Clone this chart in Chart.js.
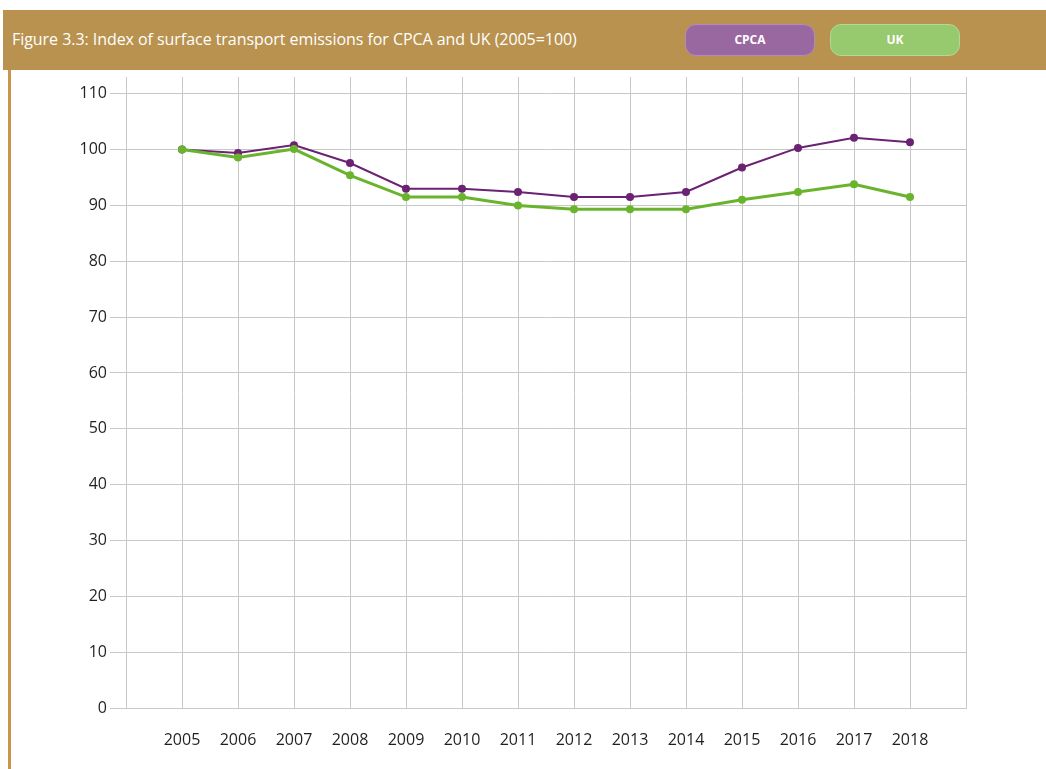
<!DOCTYPE html>
<html>
<head>
<meta charset="utf-8">
<script src="https://cdn.jsdelivr.net/npm/chart.js@4"></script>
<style>
  body { margin: 0; background: #fff; width: 1046px; height: 769px; overflow: hidden; position: relative; font-family: "Open Sans", sans-serif; }
  #header { position: absolute; left: 3px; top: 10px; width: 1043px; height: 60px; background: #b9924f; }
  #title { position: absolute; left: 9px; top: 18px; color: #fff; font-size: 16px; letter-spacing: -0.05px; }
  .btn { position: absolute; top: 14px; height: 30px; width: 128px; border-radius: 11px; color: #fff; font-weight: bold; font-size: 12px; text-align: center; line-height: 30px; }
  #leftBar { position: absolute; left: 8px; top: 70px; width: 3px; height: 699px; background: #c8974a; }
  #wrap { position: absolute; left: 12px; top: 70px; width: 1034px; height: 699px; }
</style>
</head>
<body>
<div id="header">
  <div id="title">Figure 3.3: Index of surface transport emissions for CPCA and UK (2005=100)</div>
  <div class="btn" id="btnCpca" style="left:682px; background:#9a68a0; border:1px solid #b38bb8;">CPCA</div>
  <div class="btn" id="btnUk" style="left:827px; background:#97c96e; border:1px solid #b3d996;">UK</div>
</div>
<div id="leftBar"></div>
<div id="wrap"><canvas id="emissionsChart"></canvas></div>
<script>
const years = [2005, 2006, 2007, 2008, 2009, 2010, 2011, 2012, 2013, 2014, 2015, 2016, 2017, 2018];
const cpcaValues = [100, 99.4, 100.8, 97.6, 93.0, 93.0, 92.4, 91.5, 91.5, 92.4, 96.8, 100.3, 102.1, 101.3];
const ukValues = [100, 98.6, 100.1, 95.4, 91.5, 91.5, 90.0, 89.3, 89.3, 89.3, 91.0, 92.4, 93.8, 91.5];
const seriesNames = ["CPCA", "UK"];

const gridColor = "#c8c8c8";
const textColor = "#231f20";

const canvas = document.getElementById("emissionsChart");
const ctx = canvas.getContext("2d");

new Chart(ctx, {
  type: "line",
  data: {
    datasets: [
      {
        label: seriesNames[1],
        data: years.map((y, i) => ({ x: y, y: ukValues[i] })),
        borderColor: "#6ab42d",
        backgroundColor: "#6ab42d",
        borderWidth: 3,
        pointRadius: 4,
        pointBorderWidth: 0,
        order: 0,
      },
      {
        label: seriesNames[0],
        data: years.map((y, i) => ({ x: y, y: cpcaValues[i] })),
        borderColor: "#6b2272",
        backgroundColor: "#6b2272",
        borderWidth: 2,
        pointRadius: 4,
        pointBorderWidth: 0,
        order: 1,
      },
    ],
  },
  options: {
    responsive: true,
    maintainAspectRatio: false,
    animation: false,
    layout: { padding: { top: 7, right: 80, left: 0, bottom: 0 } },
    plugins: {
      legend: { display: false },
      tooltip: { enabled: false },
    },
    scales: {
      x: {
        type: "linear",
        min: 2004,
        max: 2019,
        ticks: {
          stepSize: 1,
          color: textColor,
          font: { family: "Open Sans", size: 16 },
          padding: 23,
          maxRotation: 0,
          callback: (v) => (v >= 2005 && v <= 2018 ? String(v) : ""),
        },
        grid: { color: gridColor, lineWidth: 1, drawTicks: false },
        border: { color: gridColor },
        afterFit: (s) => { s.height = 61; s.paddingLeft = 0; s.paddingRight = 0; },
      },
      y: {
        min: 0,
        max: 113,
        ticks: {
          stepSize: 10,
          includeBounds: false,
          color: textColor,
          font: { family: "Open Sans", size: 16 },
          padding: 3,
        },
        grid: { color: gridColor, lineWidth: 1, tickLength: 16 },
        border: { color: gridColor },
        afterFit: (s) => { s.width = 114; s.paddingTop = 0; s.paddingBottom = 0; },
      },
    },
  },
});
</script>
</body>
</html>
